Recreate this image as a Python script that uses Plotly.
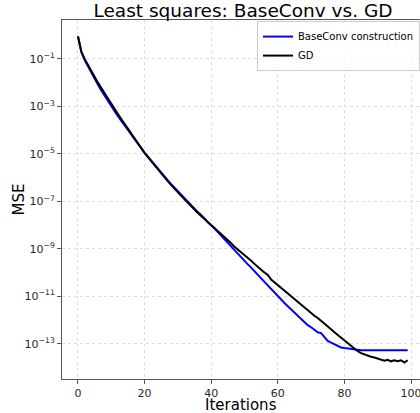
import plotly.graph_objects as go

iterations = list(range(100))

baseconv_mse = [
    8.9e-01, 2.0e-01, 8.9e-02, 4.7e-02, 2.5e-02, 1.4e-02, 8.1e-03, 4.7e-03, 2.8e-03, 1.6e-03,
    1.0e-03, 6.2e-04, 3.9e-04, 2.5e-04, 1.5e-04, 9.8e-05, 6.3e-05, 4.1e-05, 2.6e-05, 1.7e-05,
    1.1e-05, 7.6e-06, 5.1e-06, 3.5e-06, 2.3e-06, 1.6e-06, 1.1e-06, 7.6e-07, 5.2e-07, 3.7e-07,
    2.6e-07, 1.9e-07, 1.3e-07, 9.3e-08, 6.8e-08, 4.9e-08, 3.5e-08, 2.6e-08, 1.9e-08, 1.3e-08,
    9.8e-09, 7.1e-09, 5.0e-09, 3.5e-09, 2.5e-09, 1.8e-09, 1.3e-09, 8.9e-10, 6.3e-10, 4.5e-10,
    3.2e-10, 2.2e-10, 1.6e-10, 1.1e-10, 7.9e-11, 5.6e-11, 4.0e-11, 2.8e-11, 2.0e-11, 1.4e-11,
    1.0e-11, 7.2e-12, 5.2e-12, 3.8e-12, 2.8e-12, 2.0e-12, 1.4e-12, 1.1e-12, 7.9e-13, 6.0e-13,
    4.9e-13, 3.8e-13, 3.0e-13, 2.8e-13, 1.8e-13, 1.3e-13, 1.1e-13, 9.5e-14, 7.6e-14, 6.9e-14,
    6.5e-14, 6.2e-14, 5.8e-14, 5.5e-14, 5.4e-14, 5.25e-14, 5.25e-14, 5.25e-14, 5.25e-14, 5.25e-14,
    5.25e-14, 5.25e-14, 5.25e-14, 5.25e-14, 5.25e-14, 5.25e-14, 5.25e-14, 5.25e-14, 5.25e-14, 5.25e-14,
]

gd_mse = [
    8.9e-01, 2.0e-01, 1.0e-01, 5.5e-02, 3.1e-02, 1.8e-02, 1.0e-02, 5.9e-03, 3.5e-03, 2.0e-03,
    1.2e-03, 7.6e-04, 4.7e-04, 2.9e-04, 1.8e-04, 1.1e-04, 6.8e-05, 4.3e-05, 2.7e-05, 1.7e-05,
    1.1e-05, 7.2e-06, 4.8e-06, 3.2e-06, 2.2e-06, 1.5e-06, 1.0e-06, 6.9e-07, 4.8e-07, 3.3e-07,
    2.3e-07, 1.7e-07, 1.2e-07, 8.5e-08, 6.2e-08, 4.5e-08, 3.2e-08, 2.4e-08, 1.8e-08, 1.3e-08,
    9.8e-09, 7.2e-09, 5.4e-09, 4.0e-09, 3.0e-09, 2.2e-09, 1.7e-09, 1.2e-09, 9.3e-10, 7.1e-10,
    5.4e-10, 4.1e-10, 3.1e-10, 2.3e-10, 1.8e-10, 1.3e-10, 1.0e-10, 7.8e-11, 5.0e-11, 3.8e-11,
    2.9e-11, 2.2e-11, 1.7e-11, 1.3e-11, 1.0e-11, 7.6e-12, 5.9e-12, 4.5e-12, 3.4e-12, 2.6e-12,
    2.0e-12, 1.5e-12, 1.2e-12, 8.9e-13, 6.8e-13, 5.2e-13, 4.0e-13, 3.0e-13, 2.3e-13, 1.8e-13,
    1.4e-13, 1.05e-13, 7.9e-14, 6.0e-14, 4.8e-14, 4.0e-14, 3.5e-14, 3.1e-14, 2.8e-14, 2.6e-14,
    2.3e-14, 2.2e-14, 1.9e-14, 2.1e-14, 1.8e-14, 2.0e-14, 1.8e-14, 2.0e-14, 1.6e-14, 2.0e-14,
]

x_tick_vals = [0, 20, 40, 60, 80, 100]
y_tick_vals = [1e-1, 1e-3, 1e-5, 1e-7, 1e-9, 1e-11, 1e-13]
y_tick_text = ["10<sup>−1</sup>", "10<sup>−3</sup>", "10<sup>−5</sup>", "10<sup>−7</sup>",
               "10<sup>−9</sup>", "10<sup>−11</sup>", "10<sup>−13</sup>"]

font_family = "DejaVu Sans"

fig = go.Figure()
fig.add_trace(go.Scatter(x=iterations, y=baseconv_mse, mode="lines",
                         name="BaseConv construction",
                         line=dict(color="#0000ff", width=2)))
fig.add_trace(go.Scatter(x=iterations, y=gd_mse, mode="lines",
                         name="GD",
                         line=dict(color="#000000", width=2)))

fig.update_layout(
    width=420, height=413,
    margin=dict(l=62, r=0, t=20, b=34, autoexpand=False),
    paper_bgcolor="white", plot_bgcolor="white",
    font=dict(family=font_family, color="#262626"),
    title=dict(text="Least squares: BaseConv vs. GD", x=243 / 420, xanchor="center",
               y=1 - 11 / 413, yanchor="middle", font=dict(size=18.5, color="#000000")),
    showlegend=True,
    legend=dict(x=1, xanchor="right", y=0.997, yanchor="top",
                bgcolor="rgba(255,255,255,0.8)", bordercolor="#cccccc", borderwidth=1,
                font=dict(size=10, color="#000000"), tracegroupgap=0,
                itemwidth=30),
    annotations=[
        dict(text="Iterations", xref="paper", yref="paper", x=0.5, y=0,
             xanchor="center", yanchor="middle", yshift=-26, showarrow=False,
             font=dict(size=15, color="#000000")),
        dict(text="MSE", xref="paper", yref="paper", x=0, y=0.5,
             xanchor="center", yanchor="middle", xshift=-44, textangle=-90,
             showarrow=False, font=dict(size=15, color="#000000")),
    ],
)
fig.update_xaxes(
    range=[-4.8, 102.7], tickvals=x_tick_vals, automargin=False,
    ticklabeloverflow="allow",
    showline=True, linecolor="#555555", linewidth=1, mirror=True,
    ticks="outside", ticklen=4, tickcolor="#555555",
    showgrid=True, gridcolor="#dddddd", griddash="dot", gridwidth=1,
    zeroline=False, tickfont=dict(size=11),
)
fig.update_yaxes(
    type="log", range=[-14.49, 0.64], tickvals=y_tick_vals, ticktext=y_tick_text,
    automargin=False,
    showline=True, linecolor="#555555", linewidth=1, mirror=False,
    ticks="outside", ticklen=4, tickcolor="#555555",
    showgrid=True, gridcolor="#dddddd", griddash="dot", gridwidth=1,
    zeroline=False, tickfont=dict(size=11),
)

fig.write_html("out.html", config={"displayModeBar": False},
               post_script="document.body.style.margin='0';")
